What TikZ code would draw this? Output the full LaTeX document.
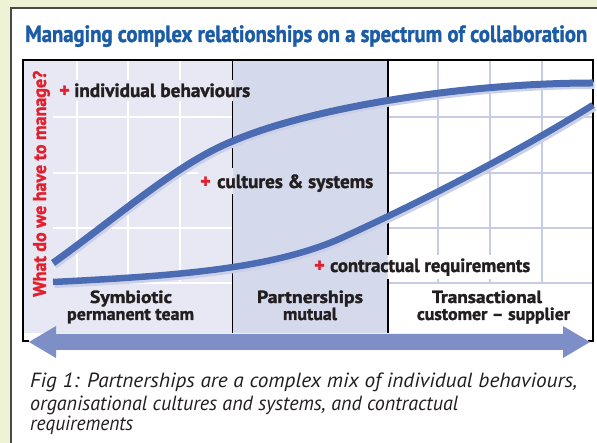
\documentclass[tikz,border=0pt]{standalone}
\usepackage{fontspec}
\setmainfont{PT Sans}
\newfontfamily\heavy{PT Sans}[BoldFeatures={FakeBold=1.6}]
\usepackage{graphicx}

\definecolor{bgc}{HTML}{EEF3D5}
\definecolor{framec}{HTML}{4A4A4A}
\definecolor{titlec}{HTML}{1C5CA6}
\definecolor{leftc}{HTML}{E7E8F3}
\definecolor{midc}{HTML}{D5D9EC}
\definecolor{gridl}{HTML}{C7CCE5}
\definecolor{curvec}{HTML}{4B6CB2}
\definecolor{shadowc}{HTML}{CBD0E8}
\definecolor{arrowc}{HTML}{7E8FC7}
\definecolor{redc}{HTML}{E31E2D}
\definecolor{inkc}{HTML}{231F20}

% the three zones of the spectrum
\newcommand{\zonefills}{%
  \fill[leftc] (23,60) rectangle (232.5,333);
  \fill[midc] (232.5,60) rectangle (388,333);
  \fill[white] (388,60) rectangle (593,333);
}
% fitted text: width, size, content
\newcommand{\fit}[3]{\resizebox{#1pt}{\height}{\fontsize{#2}{#2}\selectfont #3}}
% the two curves
\newcommand{\upperpath}{(53,263) .. controls (120,215) and (178,163) .. (233,141)
  .. controls (310,108) and (463,83) .. (593,83)}
\newcommand{\lowerpath}{(53,282) .. controls (173,276) and (267,269.4) .. (337,240)
  .. controls (417,204) and (513,154.6) .. (593,105)}

\begin{document}
\begin{tikzpicture}[x=1pt,y=-1pt,
  txt/.style={anchor=base west,inner sep=0pt,text=inkc,font=\heavy\bfseries},
  ctr/.style={anchor=base,inner sep=0pt,text=inkc,font=\heavy\bfseries},
  plus/.style={anchor=base west,inner sep=0pt,text=redc,font=\heavy\bfseries\fontsize{20}{20}\selectfont},
  divider/.style={line width=1.7pt,draw=black},
  framel/.style={line width=1.9pt,draw=black},
  curve/.style={line width=7pt,draw=curvec},
  curveshadow/.style={line width=7pt,draw=shadowc},
  gridw/.style={line width=1.1pt,draw=white},
  gridc/.style={line width=1.1pt,draw=gridl}]

% page and panel
\fill[bgc] (0,0) rectangle (597,443);
\useasboundingbox (0,0) rectangle (597,443);
\fill[white] (11,8) rectangle (600,446);
\draw[framec,line width=1.2pt] (11,446) -- (11,8) -- (600,8);

% title
\node[anchor=base west,inner sep=0pt,text=titlec,font=\heavy\bfseries] (title) at (25,42)
  {\fit{562}{23.5}{Managing complex relationships on a spectrum of collaboration}};

% zones
\zonefills

% grid
\foreach \x in {77,128,180} \draw[gridw] (\x,60) -- (\x,283);
\foreach \y in {117,173,228,283} \draw[gridw] (53,\y) -- (232.5,\y);
\foreach \x in {438,490,542} \draw[gridc] (\x,60) -- (\x,283);
\foreach \y in {117,173,228,283} \draw[gridc] (388,\y) -- (593,\y);

% zone dividers
\draw[divider] (232.5,60) -- (232.5,333);
\draw[divider] (388,60) -- (388,333);

% clear the ground behind the curve labels
\begin{scope}
  \clip (57,81) rectangle (253,100.5);
  \zonefills
\end{scope}
\begin{scope}
  \clip (198,169) rectangle (377,194);
  \zonefills
\end{scope}
\begin{scope}
  \clip (312,255.5) rectangle (534,279);
  \zonefills
\end{scope}

% frame
\draw[framel] (29,341) -- (23,341) -- (23,60) -- (593,60) -- (593,341) -- (588,341);

% curves
\begin{scope}[shift={(1.5,2.5)}]
\draw[curveshadow] \upperpath;
\draw[curveshadow] \lowerpath;
\end{scope}
\draw[curve] \upperpath;
\draw[curve,line width=6.5pt] \lowerpath;

% curve labels
\node[plus] (p1) at (59,97) {+};
\node[txt] (l1) at (74,97) {\fit{176}{19}{individual behaviours}};
\node[plus] (p2) at (200,188) {+};
\node[txt] (l2) at (217,188) {\fit{156}{19}{cultures \& systems}};
\node[plus] (p3) at (314,272) {+};
\node[txt] (l3) at (330,272) {\fit{200}{19}{contractual requirements}};

% zone labels
\node[ctr] (z1a) at (131,303) {\fit{82}{17.5}{Symbiotic}};
\node[ctr] (z1b) at (130.5,320) {\fit{127}{17.5}{permanent team}};
\node[ctr] (z2a) at (310,303) {\fit{106}{17.5}{Partnerships}};
\node[ctr] (z2b) at (310,320) {\fit{54}{17.5}{mutual}};
\node[ctr] (z3a) at (487,303) {\fit{110}{17.5}{Transactional}};
\node[ctr] (z3b) at (493.5,320) {\fit{153}{17.5}{customer – supplier}};

% vertical axis label
\node[rotate=90,anchor=base west,inner sep=0pt,text=redc,font=\heavy\bfseries] (ylab) at (46,297)
  {\fit{226}{18.5}{What do we have to manage?}};

% spectrum arrow
\fill[arrowc] (29,342) -- (56,326) -- (56,334) -- (563,334) -- (563,326) -- (590,342)
  -- (563,358) -- (563,350) -- (56,350) -- (56,358) -- cycle;

% caption
\node[anchor=base west,inner sep=0pt,text=inkc,font=\itshape] (cap1) at (30,388)
  {\fit{547}{20.5}{Fig 1: Partnerships are a complex mix of individual behaviours,}};
\node[anchor=base west,inner sep=0pt,text=inkc,font=\itshape] (cap2) at (30,410)
  {\fit{428}{20.5}{organisational cultures and systems, and contractual}};
\node[anchor=base west,inner sep=0pt,text=inkc,font=\itshape] (cap3) at (30,431)
  {\fit{103}{20.5}{requirements}};
\end{tikzpicture}
\end{document}
